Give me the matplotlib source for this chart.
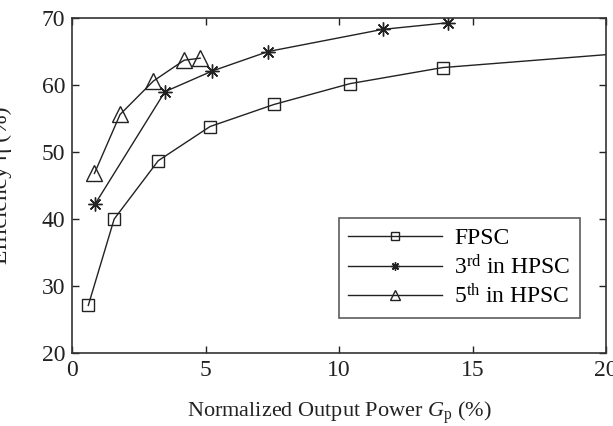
import matplotlib
matplotlib.use("Agg")
import matplotlib.pyplot as plt

# Data
fpsc_x = [0.61, 1.58, 3.23, 5.17, 7.57, 10.41, 13.88, 21.5]
fpsc_y = [27.1, 40.0, 48.7, 53.8, 57.1, 60.2, 62.6, 65.0]

h3_x = [0.86, 3.48, 5.26, 7.35, 11.63, 14.1]
h3_y = [42.2, 59.0, 62.1, 65.0, 68.3, 69.3]

h5_x = [0.84, 1.80, 3.05, 4.20, 4.80]
h5_y = [46.8, 55.6, 60.6, 63.7, 64.0]

labels = ["FPSC", r"3$^{\rm rd}$ in HPSC", r"5$^{\rm th}$ in HPSC"]
xticks = [0, 5, 10, 15, 20]
yticks = [20, 30, 40, 50, 60, 70]

plt.rcParams['font.family'] = ['Liberation Serif', 'DejaVu Serif']
plt.rcParams['mathtext.fontset'] = 'custom'
plt.rcParams['mathtext.rm'] = 'Liberation Serif'
plt.rcParams['mathtext.it'] = 'Liberation Serif:italic'

fig = plt.figure(figsize=(6.13, 4.26), dpi=100)
ax = fig.add_axes([72/613, 1 - 353/426, (606-72)/613, (353-18)/426])

lc = '#222222'
ax.plot(fpsc_x, fpsc_y, color=lc, lw=1.0, marker='s', ms=9, mfc='none', mec=lc, mew=1.0, label=labels[0])
ax.plot(h3_x, h3_y, color=lc, lw=1.0, marker=(8, 2, 0), ms=10, mec=lc, mew=1.0, label=labels[1])
ax.plot(h5_x, h5_y, color=lc, lw=1.0, marker='^', ms=11, mfc='none', mec=lc, mew=1.0, label=labels[2])

ax.set_xlim(0, 20)
ax.set_ylim(20, 70)
ax.set_xticks(xticks)
ax.set_yticks(yticks)
ax.tick_params(direction='in', top=True, right=True, length=5, width=1, labelsize=17, colors='#222222', pad=5)
for s in ax.spines.values():
    s.set_linewidth(1.2)
    s.set_color('#333333')

ax.set_xlabel(r"Normalized Output Power $G_{\rm p}$ (%)", fontsize=16, color='#222222', labelpad=13)
ax.set_ylabel("Efficiency η (%)", fontsize=17, color='#222222')
ax.yaxis.set_label_coords(-0.112, 0.5)

leg = ax.legend(loc='lower right', bbox_to_anchor=((580-72)/534, (353-318)/335), fontsize=17,
                frameon=True, fancybox=False, edgecolor='#333333', handlelength=4.0,
                borderpad=0.4, labelspacing=0.22, handletextpad=0.5, markerscale=0.6,
                borderaxespad=0)
leg.get_frame().set_linewidth(1.2)

fig.savefig("out.png", dpi=100)
